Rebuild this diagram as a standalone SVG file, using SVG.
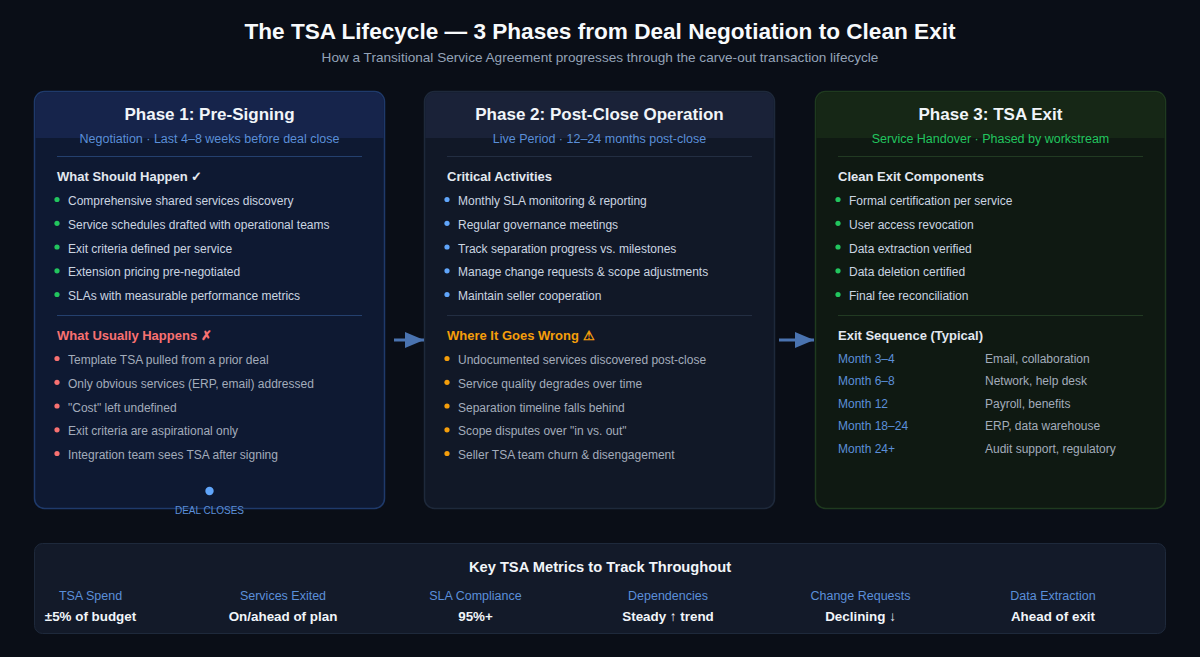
<svg xmlns="http://www.w3.org/2000/svg" width="1200" height="657" viewBox="0 0 1200 657">
<defs>
<style>
text{font-family:"Liberation Sans",Arial,sans-serif}
.title{font-size:22.6px;font-weight:bold;fill:#f8fafc;text-anchor:middle}
.sub{font-size:13.6px;fill:#94a3b8;text-anchor:middle}
.ph{font-size:17px;font-weight:bold;fill:#f1f5f9;text-anchor:middle}
.phs{font-size:12.5px;text-anchor:middle}
.blue{fill:#5b8fd9}
.green{fill:#22c55e}
.sec{font-size:13px;font-weight:bold;fill:#e2e8f0}
.item{font-size:12px;fill:#cbd5e1}
.item2{font-size:12px;fill:#a3acbb}
.mlab{font-size:12.5px;fill:#5b8fd9;text-anchor:middle}
.mval{font-size:13.4px;font-weight:bold;fill:#f1f5f9;text-anchor:middle}
.mon{font-size:12px;fill:#5b8fd9}
</style>
<marker id="ah" viewBox="0 0 10 10" refX="10" refY="5" markerWidth="19" markerHeight="16" markerUnits="userSpaceOnUse" orient="auto" preserveAspectRatio="none">
<path d="M0,0 L10,5 L0,10 Z" fill="#4a73b0"/>
</marker>
</defs>
<rect width="1200" height="657" fill="#0a0e17"/>
<text class="title" x="600" y="39">The TSA Lifecycle — 3 Phases from Deal Negotiation to Clean Exit</text>
<text class="sub" x="600" y="62">How a Transitional Service Agreement progresses through the carve-out transaction lifecycle</text>

<g id="phase1">
<rect x="34.5" y="91.5" width="350" height="417" rx="10" fill="#0e1932" stroke="#1f3a6b" stroke-width="1.5"/>
<path d="M35.2,138 V101.5 a9.3,9.3 0 0 1 9.3,-9.3 H374.5 a9.3,9.3 0 0 1 9.3,9.3 V138 Z" fill="#16244b"/>
<text class="ph" x="209.5" y="120">Phase 1: Pre-Signing</text>
<text class="phs blue" x="209.5" y="143">Negotiation · Last 4–8 weeks before deal close</text>
<line x1="57" y1="156.5" x2="362" y2="156.5" stroke="#24406e"/>
<text class="sec" x="57" y="181">What Should Happen ✓</text>
<g fill="#22c55e">
<circle cx="57" cy="199.5" r="2.6"/><circle cx="57" cy="223.3" r="2.6"/><circle cx="57" cy="247" r="2.6"/><circle cx="57" cy="270.8" r="2.6"/><circle cx="57" cy="294.5" r="2.6"/>
</g>
<text class="item" x="68" y="205">Comprehensive shared services discovery</text>
<text class="item" x="68" y="228.8">Service schedules drafted with operational teams</text>
<text class="item" x="68" y="252.5">Exit criteria defined per service</text>
<text class="item" x="68" y="276.3">Extension pricing pre-negotiated</text>
<text class="item" x="68" y="300">SLAs with measurable performance metrics</text>
<line x1="57" y1="315.5" x2="362" y2="315.5" stroke="#24406e"/>
<text class="sec" x="57" y="340" style="fill:#f87171">What Usually Happens ✗</text>
<g fill="#f87171">
<circle cx="57" cy="358.5" r="2.6"/><circle cx="57" cy="382.3" r="2.6"/><circle cx="57" cy="406" r="2.6"/><circle cx="57" cy="429.8" r="2.6"/><circle cx="57" cy="453.5" r="2.6"/>
</g>
<text class="item2" x="68" y="364">Template TSA pulled from a prior deal</text>
<text class="item2" x="68" y="387.8">Only obvious services (ERP, email) addressed</text>
<text class="item2" x="68" y="411.5">"Cost" left undefined</text>
<text class="item2" x="68" y="435.3">Exit criteria are aspirational only</text>
<text class="item2" x="68" y="459">Integration team sees TSA after signing</text>
<circle cx="209.5" cy="491" r="4.2" fill="#60a5fa"/>
<text x="209.5" y="514" text-anchor="middle" style="font-size:10px;fill:#5b8fd9">DEAL CLOSES</text>
</g>

<g id="phase2">
<rect x="424.5" y="91.5" width="350" height="417" rx="10" fill="#111827" stroke="#1e293b" stroke-width="1.5"/>
<path d="M425.2,138 V101.5 a9.3,9.3 0 0 1 9.3,-9.3 H764.5 a9.3,9.3 0 0 1 9.3,9.3 V138 Z" fill="#1a2238"/>
<text class="ph" x="599.5" y="120">Phase 2: Post-Close Operation</text>
<text class="phs blue" x="599.5" y="143">Live Period · 12–24 months post-close</text>
<line x1="447" y1="156.5" x2="752" y2="156.5" stroke="#232e42"/>
<text class="sec" x="447" y="181">Critical Activities</text>
<g fill="#60a5fa">
<circle cx="447" cy="199.5" r="2.6"/><circle cx="447" cy="223.3" r="2.6"/><circle cx="447" cy="247" r="2.6"/><circle cx="447" cy="270.8" r="2.6"/><circle cx="447" cy="294.5" r="2.6"/>
</g>
<text class="item" x="458" y="205">Monthly SLA monitoring &amp; reporting</text>
<text class="item" x="458" y="228.8">Regular governance meetings</text>
<text class="item" x="458" y="252.5">Track separation progress vs. milestones</text>
<text class="item" x="458" y="276.3">Manage change requests &amp; scope adjustments</text>
<text class="item" x="458" y="300">Maintain seller cooperation</text>
<line x1="447" y1="315.5" x2="752" y2="315.5" stroke="#232e42"/>
<text class="sec" x="447" y="340" style="fill:#f59e0b">Where It Goes Wrong ⚠</text>
<g fill="#f59e0b">
<circle cx="447" cy="358.5" r="2.6"/><circle cx="447" cy="382.3" r="2.6"/><circle cx="447" cy="406" r="2.6"/><circle cx="447" cy="429.8" r="2.6"/><circle cx="447" cy="453.5" r="2.6"/>
</g>
<text class="item2" x="458" y="364">Undocumented services discovered post-close</text>
<text class="item2" x="458" y="387.8">Service quality degrades over time</text>
<text class="item2" x="458" y="411.5">Separation timeline falls behind</text>
<text class="item2" x="458" y="435.3">Scope disputes over "in vs. out"</text>
<text class="item2" x="458" y="459">Seller TSA team churn &amp; disengagement</text>
</g>

<g id="phase3">
<rect x="815.5" y="91.5" width="350" height="417" rx="10" fill="#0f1912" stroke="#1f3a1f" stroke-width="1.5"/>
<path d="M816.2,138 V101.5 a9.3,9.3 0 0 1 9.3,-9.3 H1155.5 a9.3,9.3 0 0 1 9.3,9.3 V138 Z" fill="#162716"/>
<text class="ph" x="990.5" y="120">Phase 3: TSA Exit</text>
<text class="phs green" x="990.5" y="143">Service Handover · Phased by workstream</text>
<line x1="838" y1="156.5" x2="1143" y2="156.5" stroke="#213a22"/>
<text class="sec" x="838" y="181">Clean Exit Components</text>
<g fill="#22c55e">
<circle cx="838" cy="199.5" r="2.6"/><circle cx="838" cy="223.3" r="2.6"/><circle cx="838" cy="247" r="2.6"/><circle cx="838" cy="270.8" r="2.6"/><circle cx="838" cy="294.5" r="2.6"/>
</g>
<text class="item" x="849" y="205">Formal certification per service</text>
<text class="item" x="849" y="228.8">User access revocation</text>
<text class="item" x="849" y="252.5">Data extraction verified</text>
<text class="item" x="849" y="276.3">Data deletion certified</text>
<text class="item" x="849" y="300">Final fee reconciliation</text>
<line x1="838" y1="315.5" x2="1143" y2="315.5" stroke="#213a22"/>
<text class="sec" x="838" y="340">Exit Sequence (Typical)</text>
<text class="mon" x="838" y="362.5">Month 3–4</text>
<text class="mon" x="838" y="385">Month 6–8</text>
<text class="mon" x="838" y="407.5">Month 12</text>
<text class="mon" x="838" y="430">Month 18–24</text>
<text class="mon" x="838" y="452.5">Month 24+</text>
<text class="item2" x="985" y="362.5">Email, collaboration</text>
<text class="item2" x="985" y="385">Network, help desk</text>
<text class="item2" x="985" y="407.5">Payroll, benefits</text>
<text class="item2" x="985" y="430">ERP, data warehouse</text>
<text class="item2" x="985" y="452.5">Audit support, regulatory</text>
</g>

<g id="connectors">
<line x1="394" y1="340" x2="424" y2="340" stroke="#4a73b0" stroke-width="3" marker-end="url(#ah)"/>
<line x1="779" y1="340" x2="814" y2="340" stroke="#4a73b0" stroke-width="3" marker-end="url(#ah)"/>
</g>

<g id="metrics">
<rect x="34.5" y="543.5" width="1131" height="90" rx="8" fill="#131a29" stroke="#1e293b" stroke-width="1"/>
<text x="600" y="572" text-anchor="middle" style="font-size:14.7px;font-weight:bold;fill:#f1f5f9">Key TSA Metrics to Track Throughout</text>
<text class="mlab" x="90.5" y="600">TSA Spend</text>
<text class="mval" x="90.5" y="621">±5% of budget</text>
<text class="mlab" x="283" y="600">Services Exited</text>
<text class="mval" x="283" y="621">On/ahead of plan</text>
<text class="mlab" x="475.5" y="600">SLA Compliance</text>
<text class="mval" x="475.5" y="621">95%+</text>
<text class="mlab" x="668" y="600">Dependencies</text>
<text class="mval" x="668" y="621">Steady ↑ trend</text>
<text class="mlab" x="860.5" y="600">Change Requests</text>
<text class="mval" x="860.5" y="621">Declining ↓</text>
<text class="mlab" x="1053" y="600">Data Extraction</text>
<text class="mval" x="1053" y="621">Ahead of exit</text>
</g>
</svg>
